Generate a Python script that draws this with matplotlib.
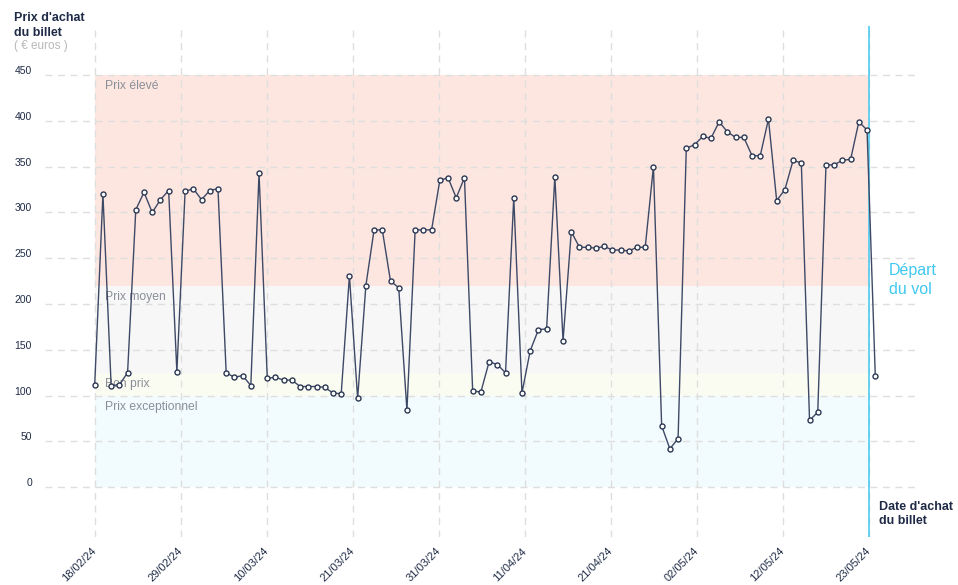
import matplotlib
matplotlib.use('Agg')
import matplotlib.pyplot as plt
import numpy as np
from matplotlib.transforms import offset_copy

plt.rcParams['font.family'] = ['Liberation Sans', 'DejaVu Sans']

# ---- data ----
prices = [112, 320, 111, 112, 125, 303, 322, 300, 314, 324,
          126, 323, 326, 314, 324, 326, 125, 120, 122, 111,
          343, 119, 120, 117, 117, 110, 110, 110, 109, 103,
          102, 231, 97, 220, 281, 281, 225, 218, 84, 281,
          281, 281, 335, 338, 316, 338, 105, 104, 137, 134,
          125, 316, 103, 149, 172, 173, 339, 160, 279, 262,
          262, 261, 263, 259, 259, 258, 262, 262, 350, 67,
          42, 53, 370, 374, 383, 381, 399, 388, 382, 382,
          362, 362, 402, 313, 325, 357, 354, 73, 82, 352,
          352, 357, 358, 399, 390, 122]
tick_labels = ['18/02/24', '29/02/24', '10/03/24', '21/03/24', '31/03/24',
               '11/04/24', '21/04/24', '02/05/24', '12/05/24', '23/05/24']
y_ticks = [0, 50, 100, 150, 200, 250, 300, 350, 400, 450]
band_names = ['Prix élevé', 'Prix moyen', 'Bon prix', 'Prix exceptionnel']
band_low = [220, 125, 100, 0]
band_high = [450, 220, 125, 100]
band_colors = ['#fde6df', '#f7f7f7', '#fbfcf1', '#f2fbfe']
departure_index = 94.2   # position of the departure date on the purchase axis

# ---- figure ----
W, H = 958, 585
fig = plt.figure(figsize=(W / 100, H / 100), dpi=100)
ax = fig.add_axes([45 / W, 1 - 537 / H, (918 - 45) / W, (537 - 26) / H])
ax.set_xlim(-6.05, 100.2)
ax.set_ylim(-54.3, 503.6)
for s in ax.spines.values():
    s.set_visible(False)

x = np.arange(len(prices))
tick_pos = np.linspace(0, departure_index, len(tick_labels))

grid_kw = dict(color='#dedede', lw=1, ls=(0, (5, 4)), zorder=1)
for v in y_ticks:
    ax.axhline(v, **grid_kw)
for t in tick_pos:
    ax.axvline(t, **grid_kw)

# bands
for name, lo, hi, c in zip(band_names, band_low, band_high, band_colors):
    ax.fill_between([0, departure_index], lo, hi, color=c, lw=0, zorder=0)
    ax.text(1.25, hi, name, transform=offset_copy(ax.transData, fig, y=-5, units='dots'),
            ha='left', va='top', fontsize=8.7, color='#8a8f99', zorder=2)

# departure line
ax.axvline(departure_index, color='#3ec8ef', lw=1.1, zorder=3)

ax.plot(x, prices, color='#3d4966', lw=1, marker='o', ms=3.6, mfc='white',
        mec='#2b3852', mew=1, zorder=4)

# y tick labels
ax.set_yticks([])
for v in y_ticks:
    ax.text(-0.0149, v, str(v),
            transform=offset_copy(ax.get_yaxis_transform(), fig, y=4, units='dots'),
            ha='right', va='center', fontsize=7.5, color='#1f2b46')

# x tick labels
ax.set_xticks(tick_pos)
ax.set_xticklabels(tick_labels, rotation=45, ha='right', va='center',
                   rotation_mode='anchor', fontsize=8, color='#1f2b46')
ax.tick_params(axis='x', length=0, pad=9)

navy = '#1f2b46'
fig.text(14 / W, 1 - 18 / H, "Prix d'achat", fontsize=9, fontweight='bold',
         color=navy, va='center', ha='left')
fig.text(14 / W, 1 - 33 / H, "du billet", fontsize=9, fontweight='bold',
         color=navy, va='center', ha='left')
fig.text(14 / W, 1 - 46 / H, "( € euros )", fontsize=8.5, color='#b8b8b8',
         va='center', ha='left')

fig.text(889 / W, 1 - 270 / H, "Départ", fontsize=11.5, color='#3ec8ef',
         va='center', ha='left')
fig.text(889 / W, 1 - 290 / H, "du vol", fontsize=11.5, color='#3ec8ef',
         va='center', ha='left')

fig.text(879 / W, 1 - 507 / H, "Date d'achat", fontsize=9, fontweight='bold',
         color=navy, va='center', ha='left')
fig.text(879 / W, 1 - 521 / H, "du billet", fontsize=9, fontweight='bold',
         color=navy, va='center', ha='left')

fig.savefig('out.png', dpi=100)
